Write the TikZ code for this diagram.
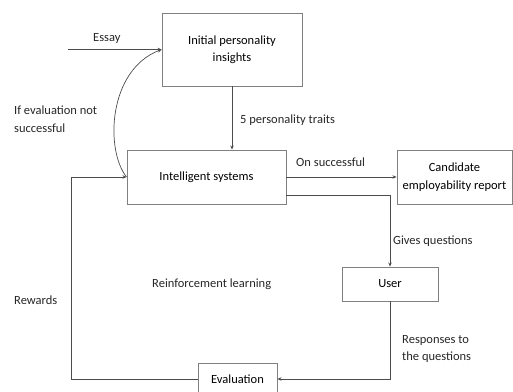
\documentclass[tikz,border=0pt]{standalone}
\usepackage{fontspec}
\setmainfont{Carlito}
\usetikzlibrary{arrows.meta}
\tikzset{
  box/.style={draw=black!50, line width=0.9pt, align=center, inner sep=2pt},
  arr/.style={draw=black!70, line width=0.7pt, -{Stealth[length=4pt,width=3.5pt]}},
  lbl/.style={anchor=west, align=left, inner sep=0pt, text=black!85}
}
\begin{document}
\begin{tikzpicture}[x=1pt,y=-1pt,font=\fontsize{12.5}{17.5}\selectfont]
    \useasboundingbox (0,0) rectangle (513,391);

    % Boxes
    \node[box, minimum width=140pt, minimum height=73pt] (init) at (232,49.5)
        {Initial personality\\insights};
    \node[box, minimum width=159pt, minimum height=54pt] (intel) at (206.5,177)
        {Intelligent systems};
    \node[box, minimum width=115pt, minimum height=54pt] (cand) at (454.5,177)
        {Candidate\\employability report};
    \node[box, minimum width=96pt, minimum height=34pt] (user) at (390,284)
        {User};
    \node[box, minimum width=79pt, minimum height=32pt] (eval) at (237.5,379)
        {Evaluation};

    % Free ends
    \coordinate (essay) at (68,49.5);
    \coordinate (gq) at (286,195);
    \coordinate (rw) at (71,379);

    % Connectors
    \draw[arr] (essay) -- (init.west);
    \draw[arr] (init.south) -- (init.south |- intel.north);
    \draw[arr] (intel.east) -- (cand.west);
    \draw[arr] (gq) -| (user.north);
    \draw[arr] (user.south) |- (eval.east);
    \draw[arr] (eval.west) -- (rw) |- (intel.west);
    \draw[arr] (intel.west) .. controls (105,150) and (108,70) .. (init.west);

    % Labels
    \node[lbl] (lessay) at (93,38) {Essay};
    \node[lbl] (ltraits) at (240,120) {5 personality traits};
    \node[lbl] (lfail) at (14,119) {If evaluation not\\successful};
    \node[lbl] (lsucc) at (296,162) {On successful};
    \node[lbl] (lgives) at (393,241) {Gives questions};
    \node[lbl] (lrl) at (152,284) {Reinforcement learning};
    \node[lbl] (lrew) at (14,300) {Rewards};
    \node[lbl] (lresp) at (402,349) {Responses to\\the questions};
\end{tikzpicture}
\end{document}
